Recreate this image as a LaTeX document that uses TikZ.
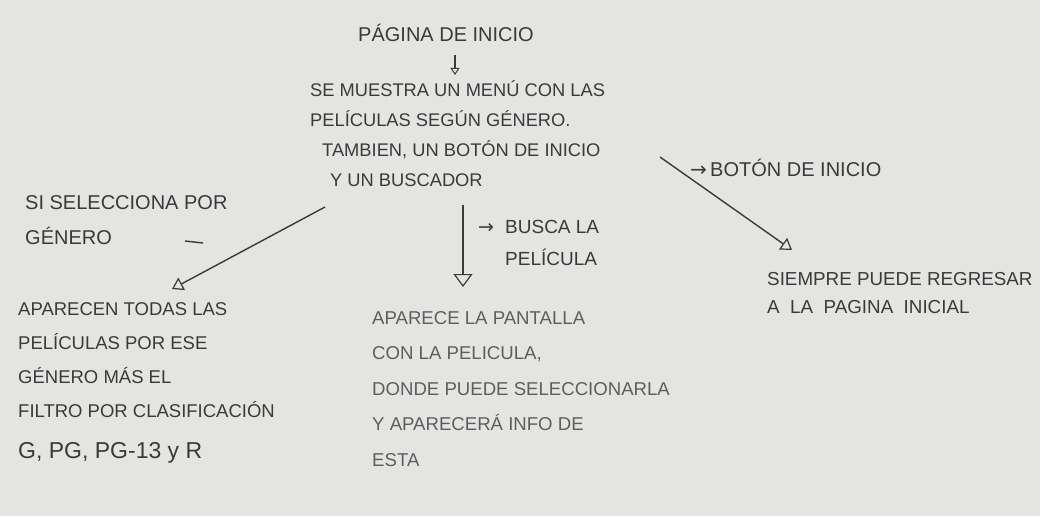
\documentclass[tikz,border=0pt]{standalone}
\usepackage{fontspec}
\setmainfont{Liberation Sans}
\newfontfamily\symfont{DejaVu Sans}
\usetikzlibrary{arrows.meta}
\definecolor{paper}{HTML}{E4E4E2}
\definecolor{ink}{HTML}{3A3A3A}
\definecolor{pencil}{HTML}{5E5E5E}
\begin{document}
\begin{tikzpicture}[x=1pt,y=-1pt,
  txt/.style={font=\fontsize{18.5}{34}\selectfont, text=ink, inner sep=0pt, anchor=north west, align=left},
  flow/.style={draw=ink, line width=1.4pt, -{Triangle[open,length=11pt,width=14pt,line width=1.2pt]}},
  bigflow/.style={flow, -{Triangle[open,length=13pt,width=19pt,line width=1.2pt]}},
  tinyflow/.style={draw=ink, line width=1.1pt, -{Triangle[open,length=7pt,width=9pt,line width=1pt]}},
]
\fill[paper] (0,0) rectangle (1040,516);
\useasboundingbox (0,0) rectangle (1040,516);

% top
\node[txt, font=\fontsize{20}{24}\selectfont] (title) at (358,24) {PÁGINA DE INICIO};
\node[txt, font=\fontsize{18.3}{30}\selectfont] (menu) at (310,80)
  {SE MUESTRA UN MENÚ CON LAS\\
   PELÍCULAS SEGÚN GÉNERO.\\
   \hspace*{12pt}TAMBIEN, UN BOTÓN DE INICIO\\
   \hspace*{20pt}Y UN BUSCADOR};

% left
\node[txt, font=\fontsize{20}{35}\selectfont] (genre) at (25,195)
  {SI SELECCIONA POR\\GÉNERO};
\draw[ink, line width=1.4pt] (185,241) -- (203,243);
\node[txt] (allmovies) at (18,302)
  {APARECEN TODAS LAS\\
   PELÍCULAS POR ESE\\
   GÉNERO MÁS EL\\
   FILTRO POR CLASIFICACIÓN};
\node[txt, font=\fontsize{23}{28}\selectfont] (ratings) at (18,442) {G, PG, PG-13 y R};

% center
\node[txt, font=\fontsize{19}{32}\selectfont] (search) at (478,220)
  {\makebox[27pt][l]{\symfont→}BUSCA LA\\\hspace*{27pt}PELÍCULA};
\node[txt, text=pencil, font=\fontsize{18.6}{35.5}\selectfont] (screen) at (372,311)
  {APARECE LA PANTALLA\\
   CON LA PELICULA,\\
   DONDE PUEDE SELECCIONARLA\\
   Y APARECERÁ INFO DE\\
   ESTA};

% right
\node[txt, font=\fontsize{20}{24}\selectfont] (homebtn) at (690,159)
  {\makebox[20pt][l]{\symfont→}BOTÓN DE INICIO};
\node[txt, font=\fontsize{18.8}{28}\selectfont] (back) at (767,272)
  {SIEMPRE PUEDE REGRESAR\\
   A \ LA \ PAGINA \ INICIAL};

% connectors
\coordinate (titleout) at (455,55);
\coordinate (menuin) at (455,75);
\coordinate (menuleft) at (325,207);
\coordinate (allin) at (172,289);
\coordinate (menudown) at (463,205);
\coordinate (screenin) at (463,287);
\coordinate (menuright) at (660,157);
\coordinate (backin) at (792,250);
\draw[tinyflow] (titleout) -- (menuin);
\draw[flow] (menuleft) -- (allin);
\draw[bigflow] (menudown) -- (screenin);
\draw[flow] (menuright) -- (backin);
\end{tikzpicture}
\end{document}
